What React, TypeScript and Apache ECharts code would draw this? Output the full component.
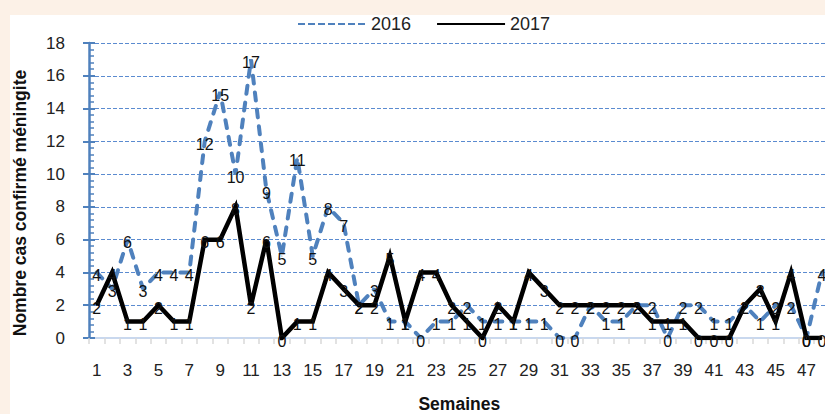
import React, { useEffect, useRef } from "react";
import * as echarts from "echarts";

const weeks = [
  "1", "2", "3", "4", "5", "6", "7", "8", "9", "10", "11", "12",
  "13", "14", "15", "16", "17", "18", "19", "20", "21", "22", "23", "24",
  "25", "26", "27", "28", "29", "30", "31", "32", "33", "34", "35", "36",
  "37", "38", "39", "40", "41", "42", "43", "44", "45", "46", "47", "48",
];

const cases2016 = [
  4, 3, 6, 3, 4, 4, 4, 12, 15, 10, 17, 9,
  5, 11, 5, 8, 7, 2, 3, 1, 1, 0, 1, 1,
  2, 1, 1, 1, 1, 1, 0, 0, 2, 1, 1, 2,
  2, 0, 2, 2, 1, 1, 2, 1, 2, 2, 0, 4,
];

const cases2017 = [
  2, 4, 1, 1, 2, 1, 1, 6, 6, 8, 2, 6,
  0, 1, 1, 4, 3, 2, 2, 5, 1, 4, 4, 2,
  1, 0, 2, 1, 4, 3, 2, 2, 2, 2, 2, 2,
  1, 1, 1, 0, 0, 0, 2, 3, 1, 4, 0, 0,
];

const yMin = 0;
const yMax = 18;
const yStep = 2;

const seriesNames = ["2016", "2017"];
const yTitle = "Nombre cas confirmé méningite";
const xTitle = "Semaines";

const FONT = "'Liberation Sans', Arial, sans-serif";
const BLUE = "#4f81bd";

export default function App() {
  const ref = useRef<HTMLDivElement>(null);

  useEffect(() => {
    const chart = echarts.init(ref.current!, null, { renderer: "svg" });
    const labelStyle = {
      show: true,
      position: "inside",
      color: "#111",
      fontSize: 16,
      fontFamily: FONT,
      offset: [0, 3],
    };
    chart.setOption({
      animation: false,
      textStyle: { fontFamily: FONT },
      legend: {
        left: 287,
        top: 0,
        padding: 0,
        itemGap: 25,
        itemWidth: 68,
        itemHeight: 14,
        itemStyle: { opacity: 0 },
        textStyle: { fontSize: 18, color: "#222", fontFamily: FONT },
        data: [
          {
            name: seriesNames[0],
            itemStyle: { opacity: 0 },
            lineStyle: { width: 2, type: [7, 3], color: BLUE, cap: "butt" },
          },
          {
            name: seriesNames[1],
            itemStyle: { opacity: 0 },
            lineStyle: { width: 2, type: "solid", color: "#000" },
          },
        ],
      },
      graphic: [
        {
          type: "text",
          x: 10,
          y: 188,
          rotation: Math.PI / 2,
          style: {
            text: yTitle,
            fontSize: 17.5,
            fontWeight: "bold",
            fill: "#111",
            align: "center",
            verticalAlign: "middle",
            fontFamily: FONT,
          },
        },
      ],
      grid: { left: 79, right: 20.4, top: 28, bottom: 97 },
      xAxis: [
        {
          type: "category",
          data: weeks,
          position: "bottom",
          boundaryGap: true,
          axisLine: { show: true, lineStyle: { color: "#d9d9d9", width: 2 } },
          axisTick: {
            show: true,
            interval: 0,
            length: 6,
            lineStyle: { color: "#d9d9d9", width: 1.5 },
          },
          axisLabel: {
            interval: 1,
            margin: 24,
            fontSize: 17,
            color: "#222",
            fontFamily: FONT,
          },
          splitLine: { show: false },
          name: xTitle,
          nameLocation: "middle",
          nameGap: 57,
          nameTextStyle: {
            fontSize: 17.5,
            fontWeight: "bold",
            color: "#111",
            fontFamily: FONT,
          },
        },
        {
          type: "category",
          data: weeks,
          position: "top",
          axisLine: { show: true, lineStyle: { color: "#c9d8ee", width: 2 } },
          axisTick: { show: false },
          axisLabel: { show: false },
          splitLine: { show: false },
        },
      ],
      yAxis: [
        {
          type: "value",
          min: yMin,
          max: yMax,
          interval: yStep,
          position: "left",
          axisLine: { show: true, lineStyle: { color: BLUE, width: 2.5 } },
          axisTick: { show: true, length: 6, lineStyle: { color: BLUE, width: 2 } },
          axisLabel: { margin: 24, fontSize: 17, color: "#222", fontFamily: FONT },
          splitLine: {
            show: true,
            lineStyle: { color: "#5b8bd0", width: 1, type: [4, 2] },
          },
        },
        {
          type: "value",
          min: yMin,
          max: yMax,
          interval: yStep,
          position: "left",
          axisLine: { show: false },
          axisLabel: { show: false },
          splitLine: { show: false },
          axisTick: {
            show: true,
            inside: true,
            length: 6,
            lineStyle: { color: BLUE, width: 2 },
          },
          minorTick: {
            show: true,
            splitNumber: 5,
            length: 5,
            lineStyle: { color: BLUE, width: 1.5 },
          },
        },
      ],
      series: [
        {
          name: seriesNames[0],
          type: "line",
          data: cases2016,
          color: BLUE,
          symbol: "circle",
          symbolSize: 1,
          showSymbol: true,
          itemStyle: { color: BLUE },
          lineStyle: { color: BLUE, width: 4, type: [8, 9], cap: "round" },
          label: labelStyle,
        },
        {
          name: seriesNames[1],
          type: "line",
          data: cases2017,
          color: "#000",
          symbol: "circle",
          symbolSize: 1,
          showSymbol: true,
          itemStyle: { color: "#000" },
          lineStyle: { color: "#000", width: 4.5, join: "miter" },
          label: labelStyle,
        },
      ],
    });
    return () => chart.dispose();
  }, []);

  return (
    <div
      style={{
        position: "fixed",
        left: 0,
        top: 0,
        width: 825,
        height: 414,
        overflow: "hidden",
        background: "#fcf1e7",
      }}
    >
      <div
        ref={ref}
        style={{
          position: "absolute",
          left: 10,
          top: 15,
          width: 840,
          height: 420,
          background: "#ffffff",
        }}
      />
    </div>
  );
}
